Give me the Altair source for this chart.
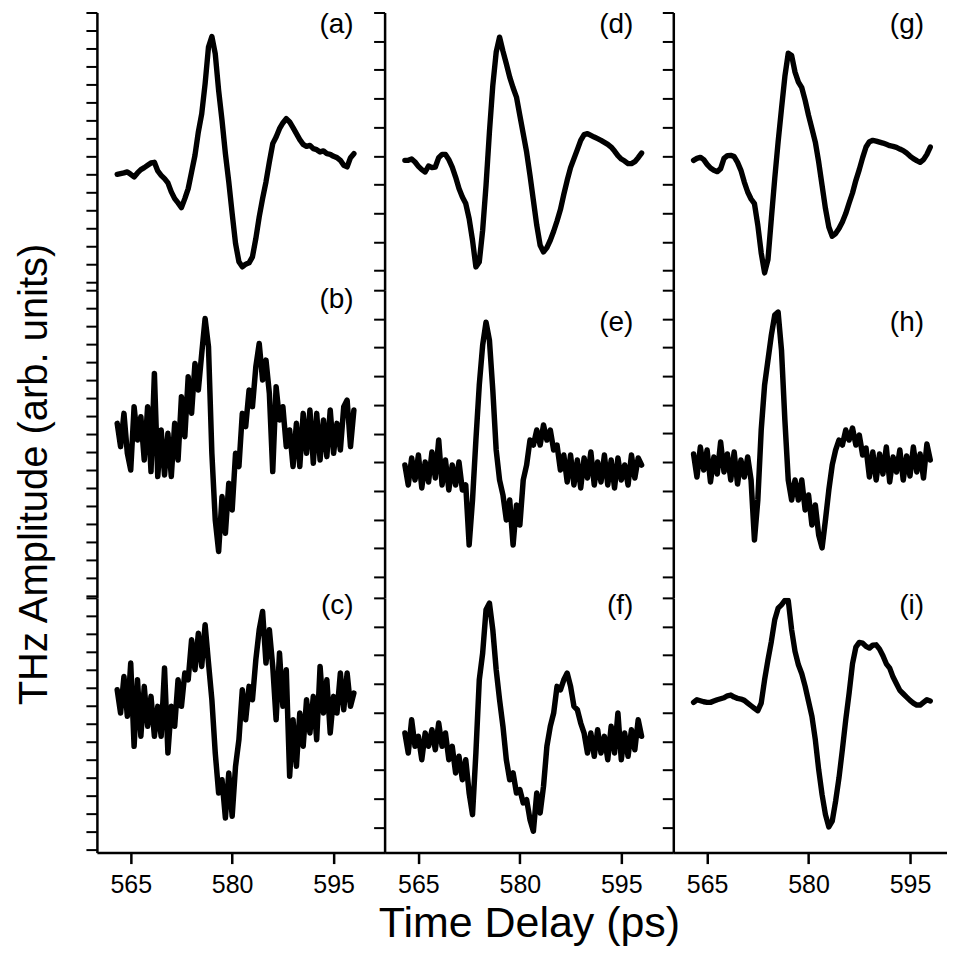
import altair as alt
import pandas as pd

FONT = "Liberation Sans"

# time grid (ps)
T = [563.0, 563.5, 564.0, 564.5, 565.0, 565.5, 566.0, 566.5, 567.0, 567.5,
     568.0, 568.5, 569.0, 569.5, 570.0, 570.5, 571.0, 571.5, 572.0, 572.5,
     573.0, 573.5, 574.0, 574.5, 575.0, 575.5, 576.0, 576.5, 577.0, 577.5,
     578.0, 578.5, 579.0, 579.5, 580.0, 580.5, 581.0, 581.5, 582.0, 582.5,
     583.0, 583.5, 584.0, 584.5, 585.0, 585.5, 586.0, 586.5, 587.0, 587.5,
     588.0, 588.5, 589.0, 589.5, 590.0, 590.5, 591.0, 591.5, 592.0, 592.5,
     593.0, 593.5, 594.0, 594.5, 595.0, 595.5, 596.0, 596.5, 597.0, 597.5,
     598.0]

# THz amplitudes (arb. units), one list per panel
A_a = [-0.07, 0.0, 0.07, 0.17, -0.07, -0.33, 0.07, 0.4, 0.6, 0.83,
       1.07, 1.13, 0.27, -0.17, -0.5, -0.93, -1.83, -2.5, -2.93, -3.4,
       -2.5, -1.5, 0.17, 1.83, 4.17, 6.0, 9.0, 12.67, 13.73, 12.0,
       8.33, 5.33, 2.0, -0.83, -4.0, -7.0, -8.83, -9.33, -9.07, -8.93,
       -8.33, -6.5, -4.33, -2.5, -0.83, 1.17, 3.0, 3.67, 4.5, 5.07,
       5.5, 5.17, 4.6, 4.0, 3.4, 2.93, 2.73, 2.83, 2.5, 2.4,
       2.17, 2.27, 2.0, 1.93, 1.73, 1.6, 1.33, 0.83, 0.67, 1.6,
       2.0]
A_b = [1.0, -1.33, 2.0, -2.0, -3.67, 2.67, -0.67, 1.67, -2.67, 2.67,
       -3.83, 6.0, -4.33, 0.33, -4.17, 0.0, -4.33, 1.0, -2.67, 3.67,
       -0.33, 5.67, 2.0, 7.0, 4.33, 8.0, 11.5, 8.67, -2.0, -8.67,
       -11.83, -6.33, -10.0, -5.0, -7.67, -2.0, -3.33, 2.0, 0.67, 4.33,
       2.67, 6.67, 9.0, 5.33, 7.33, 4.0, -3.83, 4.67, 1.33, 2.67,
       -1.33, 0.33, -3.33, 1.0, -3.33, 2.0, -2.0, 2.33, -3.0, 2.0,
       -2.67, 1.33, -2.33, 2.33, -2.0, 1.0, -1.67, 2.67, 3.33, -1.33,
       2.33]
A_c = [1.33, -1.0, 2.67, -1.33, 4.0, -4.33, 2.33, -3.33, 1.67, -2.33,
       0.67, -3.33, -0.33, -3.33, 3.5, -5.0, -0.33, -2.33, 2.33, -0.33,
       3.0, 2.33, 6.33, 3.33, 7.0, 3.67, 7.83, 4.0, 0.33, -5.0,
       -9.0, -7.67, -11.5, -7.0, -11.33, -6.33, -3.67, 1.33, -1.67, 1.67,
       0.33, 4.33, 7.33, 9.17, 4.0, 7.33, 3.67, -1.67, 5.0, -0.33,
       3.33, -7.33, -1.67, -6.33, -1.0, -4.33, 0.33, -3.0, 0.67, -3.67,
       3.67, -1.0, 2.33, -3.0, 0.67, -1.0, 3.0, -0.67, 3.0, -0.33,
       1.0]
A_d = [0.0, 0.0, 0.13, -0.17, -0.6, -0.93, -1.17, -0.57, -0.73, -0.67,
       0.27, 0.6, 0.6, 0.07, -0.67, -1.67, -2.83, -3.67, -4.33, -5.83,
       -8.0, -10.67, -10.17, -7.0, -2.5, 2.83, 7.5, 10.83, 12.33, 10.93,
       9.67, 8.33, 7.27, 6.33, 4.5, 2.67, 0.83, -1.5, -4.0, -6.5,
       -8.5, -9.17, -8.73, -8.0, -7.1, -6.07, -4.93, -3.4, -2.0, -0.73,
       0.17, 1.07, 2.0, 2.57, 2.67, 2.5, 2.33, 2.17, 2.0, 1.8,
       1.6, 1.33, 0.93, 0.47, 0.13, -0.07, -0.33, -0.33, -0.13, 0.27,
       0.73]
A_e = [0.5, -1.5, 1.2, -1.0, 1.5, -1.8, 0.8, -1.2, 1.8, -0.8,
       3.0, -1.5, 1.0, -2.0, 0.5, -1.5, 0.8, -2.0, -1.5, -7.5,
       -3.0, 3.0, 8.5, 12.5, 14.8, 13.0, 8.0, 2.0, -1.0, -2.5,
       -5.0, -3.0, -7.5, -3.5, -5.5, -1.0, 0.5, 3.0, 2.5, 4.0,
       2.5, 4.5, 3.0, 4.0, 2.0, 2.5, 0.0, 1.5, -1.2, 1.5,
       -1.5, 1.0, -1.8, 1.2, -0.8, 1.8, -1.5, 0.8, -1.2, 1.5,
       -1.5, 1.0, -1.8, 1.2, -1.0, 0.5, -1.5, 1.5, -0.8, 1.2,
       0.5]
A_f = [1.0, -1.0, 2.33, -0.33, 0.67, -1.67, 1.0, -0.33, 1.33, -0.67,
       2.0, -0.33, 1.0, -1.67, -0.33, -3.0, -1.33, -3.67, -1.67, -5.0,
       -7.17, -1.0, 6.33, 9.0, 13.33, 14.0, 11.33, 7.33, 4.33, 1.67,
       -1.67, -3.67, -3.0, -5.0, -4.67, -6.0, -5.67, -7.67, -8.83, -5.0,
       -7.0, -4.33, -0.33, 1.67, 3.0, 5.67, 5.33, 6.33, 7.0, 5.67,
       3.67, 3.33, 2.0, 1.0, -1.0, 1.0, -1.33, 1.33, -1.0, 0.67,
       -1.67, 1.67, -1.0, 3.0, -1.67, 1.0, -1.33, 1.33, -0.67, 2.33,
       0.67]
A_g = [0.0, 0.2, 0.3, 0.07, -0.4, -0.77, -1.0, -1.13, -0.83, 0.2,
       0.47, 0.5, 0.37, -0.2, -1.0, -2.17, -3.17, -3.87, -4.33, -6.5,
       -9.27, -11.27, -9.93, -5.83, -1.83, 1.83, 5.17, 8.4, 10.73, 10.5,
       8.83, 7.83, 7.27, 6.0, 4.5, 3.17, 1.83, -0.17, -2.5, -4.83,
       -6.67, -7.6, -7.33, -6.83, -6.17, -5.33, -4.27, -3.27, -2.0, -0.93,
       0.27, 1.33, 1.87, 2.0, 1.93, 1.83, 1.73, 1.6, 1.47, 1.4,
       1.3, 1.13, 0.97, 0.73, 0.43, 0.17, -0.03, -0.2, 0.07, 0.6,
       1.33]
A_h = [0.8, -1.5, 1.5, -0.8, 1.2, -2.0, 0.5, -1.2, 2.0, -1.0,
       0.8, -1.8, 1.0, -2.2, 0.2, -1.5, 0.5, -1.8, -7.8, -3.8,
       3.2, 7.7, 10.2, 12.7, 14.7, 15.0, 11.2, 4.2, -1.8, -3.8,
       -1.8, -3.8, -1.8, -4.8, -3.3, -6.3, -4.3, -7.3, -8.6, -5.8,
       -2.8, -0.3, 1.2, 2.2, 1.7, 3.2, 2.2, 3.4, 1.7, 2.7,
       0.7, 1.4, -1.5, 1.0, -1.8, 0.8, -1.2, 1.5, -2.0, 0.5,
       -1.0, 1.2, -1.8, 0.6, -1.4, 1.5, -1.0, 0.8, -1.6, 1.8,
       0.2]
A_i = [0.07, 0.33, 0.23, 0.13, 0.07, 0.07, 0.2, 0.33, 0.43, 0.53,
       0.73, 0.8, 0.6, 0.47, 0.4, 0.27, 0.0, -0.27, -0.53, -0.77,
       0.0, 2.33, 4.33, 6.17, 8.33, 9.5, 9.83, 10.27, 10.27, 7.33,
       5.17, 3.83, 2.93, 1.67, 0.17, -1.33, -3.67, -6.67, -9.17, -11.17,
       -12.4, -11.83, -9.83, -7.5, -4.67, -1.67, 1.0, 3.93, 5.6, 6.07,
       6.0, 5.67, 5.5, 5.8, 5.83, 5.4, 4.73, 3.93, 3.5, 2.6,
       1.93, 1.27, 0.93, 0.6, 0.27, 0.0, -0.2, -0.2, 0.07, 0.33,
       0.2]

PANEL_LABELS = ["(a)", "(b)", "(c)", "(d)", "(e)", "(f)", "(g)", "(h)", "(i)"]
X_TICKS = [565, 580, 595]
X_TITLE = "Time Delay (ps)"
Y_TITLE = "THz Amplitude (arb. units)"

# per-panel y ranges (arb. units)
Y_DOMAINS = {
    "a": [-11.67, 16.13], "b": [-16.47, 14.33], "c": [-14.97, 10.53],
    "d": [-13.0, 14.8], "e": [-12.8, 18.0], "f": [-10.97, 14.53],
    "g": [-13.0, 14.8], "h": [-13.6, 17.2], "i": [-14.97, 10.53],
}

ROW_H = [278, 308, 255]
COL_W = [288, 289, 274]
PX_PER_PS = 6.77


def tick_values(dom, step):
    vals = []
    v = dom[1]
    while v >= dom[0] - 1e-6:
        vals.append(round(v, 3))
        v -= step
    return vals


def panel(key, vals, label, col, row, noisy):
    w, h = COL_W[col], ROW_H[row]
    xdom = [560, 560 + w / PX_PER_PS]
    ydom = Y_DOMAINS[key]
    df = pd.DataFrame({"t": T, "amp": vals})
    bottom = row == 2
    if bottom:
        xaxis = alt.Axis(values=X_TICKS, grid=False, domainColor="black",
                         domainWidth=2.5, tickColor="black", tickWidth=2.5,
                         tickSize=11, labelFont=FONT, labelFontSize=25,
                         labelColor="black", labelPadding=9,
                         title=X_TITLE if col == 1 else None,
                         titleFont=FONT, titleFontSize=43,
                         titleFontWeight="normal", titleColor="black",
                         titlePadding=5)
    else:
        xaxis = None
    step = 1.8 if col == 0 else 2.87
    yaxis = alt.Axis(values=tick_values(ydom, step), labels=False, grid=False,
                     domainColor="black", domainWidth=2.5, tickColor="black",
                     tickWidth=2, tickSize=11,
                     title=Y_TITLE if (col == 0 and row == 1) else None,
                     titleFont=FONT, titleFontSize=40, titleFontWeight="normal",
                     titleColor="black", titlePadding=30, titleY=184)
    line = alt.Chart(df).mark_line(
        color="black", strokeWidth=5.5 if noisy else 5.4,
        strokeJoin="round", strokeCap="round", clip=True
    ).encode(
        x=alt.X("t:Q", scale=alt.Scale(domain=xdom, nice=False, zero=False), axis=xaxis),
        y=alt.Y("amp:Q", scale=alt.Scale(domain=ydom, nice=False, zero=False), axis=yaxis),
    )
    lab_x = [257, 249, 251][col]
    lab_y = [13, 10 if col == 0 else 33, 8][row]
    txt = alt.Chart(pd.DataFrame({"lab": [label]})).mark_text(
        font=FONT, fontSize=28, color="black", align="right", baseline="middle"
    ).encode(x=alt.value(lab_x), y=alt.value(lab_y), text="lab:N")
    return alt.layer(line, txt).properties(width=w, height=h)


series = {"a": A_a, "b": A_b, "c": A_c, "d": A_d, "e": A_e,
          "f": A_f, "g": A_g, "h": A_h, "i": A_i}
noisy_keys = {"b", "c", "e", "f", "h"}
keys = ["a", "b", "c", "d", "e", "f", "g", "h", "i"]

# row-major order for a 3-column wrapped concat
cells = []
for r in range(3):
    for c in range(3):
        k = keys[c * 3 + r]
        cells.append(panel(k, series[k], PANEL_LABELS[c * 3 + r], c, r, k in noisy_keys))

chart = alt.concat(*cells, columns=3, spacing=0, bounds="flush").properties(
    padding={"left": 6, "top": 3, "right": 0, "bottom": 0}
).configure(background="white", view=alt.ViewConfig(strokeWidth=0))

chart.save("out.html", embed_options={"renderer": "svg", "actions": False})
